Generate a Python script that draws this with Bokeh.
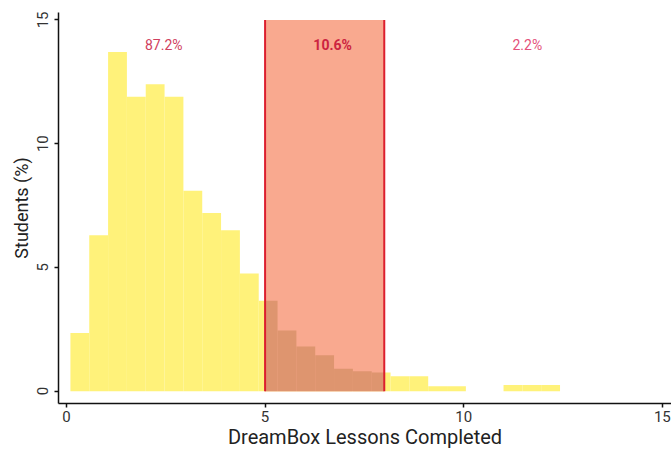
from bokeh.plotting import figure
from bokeh.models import Range1d, FixedTicker
from bokeh.core.properties import value
from bokeh.embed import file_html
from bokeh.resources import INLINE

# ---- data ----
bin_left = [0.1, 0.574, 1.048, 1.522, 1.996, 2.47, 2.944, 3.418, 3.892, 4.366,
            4.84, 5.314, 5.788, 6.262, 6.736, 7.21, 7.684, 8.158, 8.632, 9.106,
            9.58, 10.054, 10.528, 11.002, 11.476, 11.95]
bin_width = 0.474
pct_students = [2.35, 6.3, 13.7, 11.9, 12.4, 11.9, 8.1, 7.2, 6.5, 4.75,
                3.65, 2.45, 1.8, 1.45, 0.9, 0.8, 0.75, 0.6, 0.6, 0.2,
                0.2, 0.0, 0.0, 0.25, 0.25, 0.25]
band_low, band_high, band_top = 5, 8, 15
label_x = [2.45, 6.7, 11.6]
label_y = [14.0, 14.0, 14.0]
label_text = ["87.2%", "10.6%", "2.2%"]
x_ticks = [0, 5, 10, 15]
y_ticks = [0, 5, 10, 15]

FONT = "Roboto"
YELLOW = "#FFF27A"
SALMON = "#F9A98F"
BROWN = "#DE956F"
RED = "#DC1F2E"

p = figure(width=671, height=454, output_backend="svg", toolbar_location=None,
           x_range=Range1d(-0.2, 15.23), y_range=Range1d(-0.5, 15.3),
           min_border_left=58, min_border_right=0, min_border_top=12,
           min_border_bottom=51)
p.outline_line_color = None
p.xgrid.visible = False
p.ygrid.visible = False
p.background_fill_color = "white"
p.border_fill_color = "white"

bin_right = [l + bin_width for l in bin_left]

# histogram bars
p.quad(left=bin_left, right=bin_right, bottom=0, top=pct_students,
       fill_color=YELLOW, line_color=None)

# shaded band
p.quad(left=[band_low], right=[band_high], bottom=[0], top=[band_top],
       fill_color=SALMON, line_color=None)

# bars seen through the band
cl, cr, ct = [], [], []
for l, r, v in zip(bin_left, bin_right, pct_students):
    a, b = max(l, band_low), min(r, band_high)
    if a < b and v > 0:
        cl.append(a); cr.append(b); ct.append(v)
p.quad(left=cl, right=cr, bottom=0, top=ct, fill_color=BROWN, line_color=None)

# band edges
p.segment(x0=[band_low, band_high], y0=[0, 0], x1=[band_low, band_high],
          y1=[band_top, band_top], line_color=RED, line_width=2)

# percentage labels
p.text(x=label_x[0:1], y=label_y[0:1], text=label_text[0:1],
       text_font=value(FONT), text_font_size="14px", text_color="#D0405E",
       text_align="center", text_baseline="middle")
p.text(x=label_x[1:2], y=label_y[1:2], text=label_text[1:2],
       text_font=value(FONT), text_font_size="14px", text_color="#CC2440",
       text_font_style="bold", text_align="center", text_baseline="middle")
p.text(x=label_x[2:3], y=label_y[2:3], text=label_text[2:3],
       text_font=value(FONT), text_font_size="14px", text_color="#E4507A",
       text_align="center", text_baseline="middle")

# axes
p.xaxis.ticker = FixedTicker(ticks=x_ticks)
p.yaxis.ticker = FixedTicker(ticks=y_ticks)
p.yaxis.major_label_orientation = "vertical"
for ax in (p.xaxis[0], p.yaxis[0]):
    ax.minor_tick_line_color = None
    ax.major_tick_in = 0
    ax.major_tick_out = 4
    ax.axis_line_width = 1.5
    ax.axis_line_color = "#111111"
    ax.major_tick_line_color = "#111111"
    ax.major_tick_line_width = 1.5
    ax.major_label_text_font = FONT
    ax.major_label_text_font_size = "15px"
    ax.major_label_text_color = "#333333"
    ax.axis_label_text_font = FONT
    ax.axis_label_text_font_style = "normal"
    ax.axis_label_text_color = "#222222"

p.xaxis.axis_label = "DreamBox Lessons Completed"
p.xaxis.axis_label_text_font_size = "20px"
p.xaxis.axis_label_standoff = 0
p.xaxis.major_label_standoff = 3

p.yaxis.axis_label = "Students (%)"
p.yaxis.axis_label_text_font_size = "18px"
p.yaxis.axis_label_standoff = 3
p.yaxis.major_label_standoff = 6

open("out.html", "w").write(file_html(p, INLINE))
